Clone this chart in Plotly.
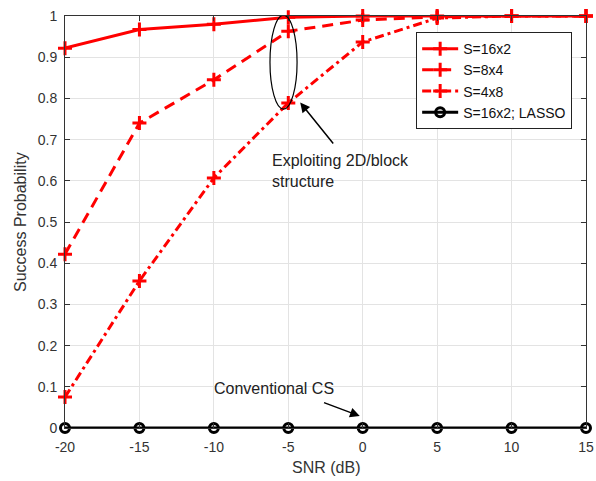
import plotly.graph_objects as go

snr = [-20, -15, -10, -5, 0, 5, 10, 15]
s16x2 = [0.922, 0.967, 0.980, 0.997, 1.0, 1.0, 1.0, 1.0]
s8x4 = [0.422, 0.740, 0.845, 0.963, 0.990, 0.998, 1.0, 1.0]
s4x8 = [0.075, 0.357, 0.607, 0.789, 0.937, 0.995, 1.0, 1.0]
lasso = [0, 0, 0, 0, 0, 0, 0, 0]
xticks = [-20, -15, -10, -5, 0, 5, 10, 15]
yticks = [0, 0.1, 0.2, 0.3, 0.4, 0.5, 0.6, 0.7, 0.8, 0.9, 1]

FONT = "Liberation Sans, Arial, sans-serif"
fig = go.Figure()

def red(name, y, dash):
    fig.add_trace(go.Scatter(
        x=snr, y=y, name=name, mode="lines+markers",
        line=dict(color="#ff0000", width=3, dash=dash),
        marker=dict(symbol="cross-thin", size=10, color="#ff0000",
                    line=dict(color="#ff0000", width=3)),
        cliponaxis=False))

red("S=16x2", s16x2, "solid")
red("S=8x4", s8x4, "11px,7px")
red("S=4x8", s4x8, "9px,4px,3px,4px")
fig.add_trace(go.Scatter(
    x=snr, y=lasso, name="S=16x2; LASSO", mode="lines+markers",
    line=dict(color="#000000", width=3),
    marker=dict(symbol="circle-open", size=9, color="#000000",
                line=dict(color="#000000", width=3)),
    cliponaxis=False))

fig.add_shape(type="circle", xref="x", yref="y",
              x0=-6.23, x1=-4.41, y0=0.774, y1=1.002,
              line=dict(color="black", width=1.2))

fig.add_annotation(x=-4.2, y=0.79, ax=-1.9, ay=0.687, xref="x", yref="y",
                   axref="x", ayref="y", text="", showarrow=True,
                   arrowhead=2, arrowsize=1.3, arrowwidth=1.5, arrowcolor="black")
fig.add_annotation(x=-6.23, y=0.625, xref="x", yref="y", text="Exploiting 2D/block<br>structure",
                   showarrow=False, xanchor="left", yanchor="middle", align="left",
                   font=dict(size=16, color="#222222", family=FONT))
fig.add_annotation(x=-0.2, y=0.029, ax=-2.7, ay=0.063, xref="x", yref="y",
                   axref="x", ayref="y", text="", showarrow=True,
                   arrowhead=2, arrowsize=1.3, arrowwidth=1.5, arrowcolor="black")
fig.add_annotation(x=-10.1, y=0.095, xref="x", yref="y", text="Conventional CS",
                   showarrow=False, xanchor="left", yanchor="middle",
                   font=dict(size=16, color="#222222", family=FONT))

# axis titles
fig.add_annotation(x=0.5, y=-0.0947, xref="paper", yref="paper", text="SNR (dB)",
                   showarrow=False, xanchor="center", yanchor="middle",
                   font=dict(size=16, color="#333333", family=FONT))
fig.add_annotation(x=-0.0864, y=0.5, xref="paper", yref="paper", text="Success Probability",
                   showarrow=False, xanchor="center", yanchor="middle", textangle=-90,
                   font=dict(size=16, color="#333333", family=FONT))

axis_common = dict(showgrid=True, gridcolor="#e3e3e3", gridwidth=1, automargin=False,
                   showline=True, linecolor="#333333", linewidth=1, mirror="ticks",
                   ticks="inside", ticklen=5, tickcolor="#333333", zeroline=False,
                   ticklabeloverflow="allow",
                   tickfont=dict(size=14, color="#333333", family=FONT))
fig.update_xaxes(range=[-20, 15], tickvals=xticks, ticktext=[str(t) for t in xticks],
                 ticklabelstandoff=6, **axis_common)
fig.update_yaxes(range=[0, 1], tickvals=yticks, ticktext=[f"{t:g}" for t in yticks],
                 ticklabelstandoff=4, **axis_common)

fig.update_layout(
    width=596, height=481,
    margin=dict(l=65, r=10, t=16, b=53),
    plot_bgcolor="white", paper_bgcolor="white",
    font=dict(family=FONT, size=14, color="#222222"),
    hovermode=False,
    legend=dict(x=0.674, y=0.961, xanchor="left", yanchor="top",
                bgcolor="white", bordercolor="#222222", borderwidth=1,
                font=dict(size=14, color="#111111", family=FONT),
                tracegroupgap=0, itemwidth=36),
    showlegend=True,
)
fig.write_html("out.html", config={"displayModeBar": False},
               post_script="document.body.style.margin='0';document.body.style.overflow='hidden';")
